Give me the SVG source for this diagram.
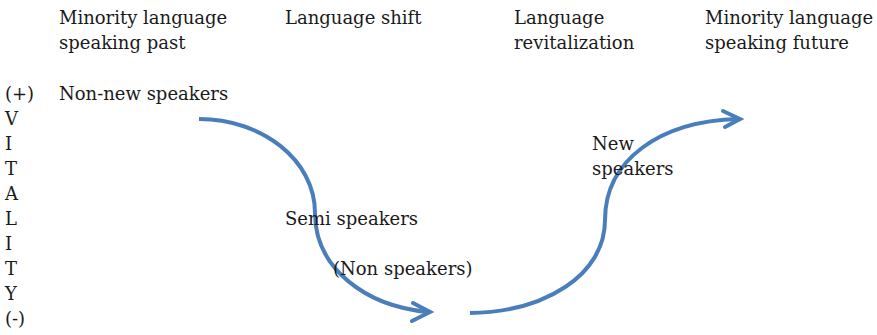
<svg xmlns="http://www.w3.org/2000/svg" width="877" height="335" viewBox="0 0 877 335">
<style>
text{font-family:"DejaVu Serif","Liberation Serif",serif;font-size:18px;fill:#1a1a1a}
.c{fill:none;stroke:#4a7ebb;stroke-width:4;stroke-linecap:butt}
.h{fill:none;stroke:#4a7ebb;stroke-width:4;stroke-linecap:round;stroke-linejoin:miter}
</style>
<rect width="877" height="335" fill="#fff"/>
<g id="past"><text x="59" y="24">Minority language</text><text x="59" y="49">speaking past</text></g>
<g id="shift"><text x="285" y="24">Language shift</text></g>
<g id="revital"><text x="514" y="24">Language</text><text x="514" y="49">revitalization</text></g>
<g id="future"><text x="705" y="24">Minority language</text><text x="705" y="49">speaking future</text></g>
<g id="vitality">
<text x="5" y="100">(+)</text><text x="5" y="125">V</text><text x="5" y="150">I</text><text x="5" y="175">T</text><text x="5" y="200">A</text><text x="5" y="225">L</text><text x="5" y="250">I</text><text x="5" y="275">T</text><text x="5" y="300">Y</text><text x="5" y="325">(-)</text>
</g>
<g id="nonnew"><text x="59" y="100">Non-new speakers</text></g>
<g id="connectors">
<path class="c" d="M199,119 C262,119 315,160 315,213 C315,268 365,306 428,312"/>
<path class="h" d="M413,303 L430,312 L412,321"/>
<path class="c" d="M470,313 C545,312 605,275 605,220 C605,160 660,121 738,119"/>
<path class="h" d="M723,111 L740,119 L725,127"/>
</g>
<g id="semi"><text x="285" y="225">Semi speakers</text></g>
<g id="non"><text x="333" y="275">(Non speakers)</text></g>
<g id="new"><text x="592" y="150">New</text><text x="592" y="175">speakers</text></g>
</svg>
